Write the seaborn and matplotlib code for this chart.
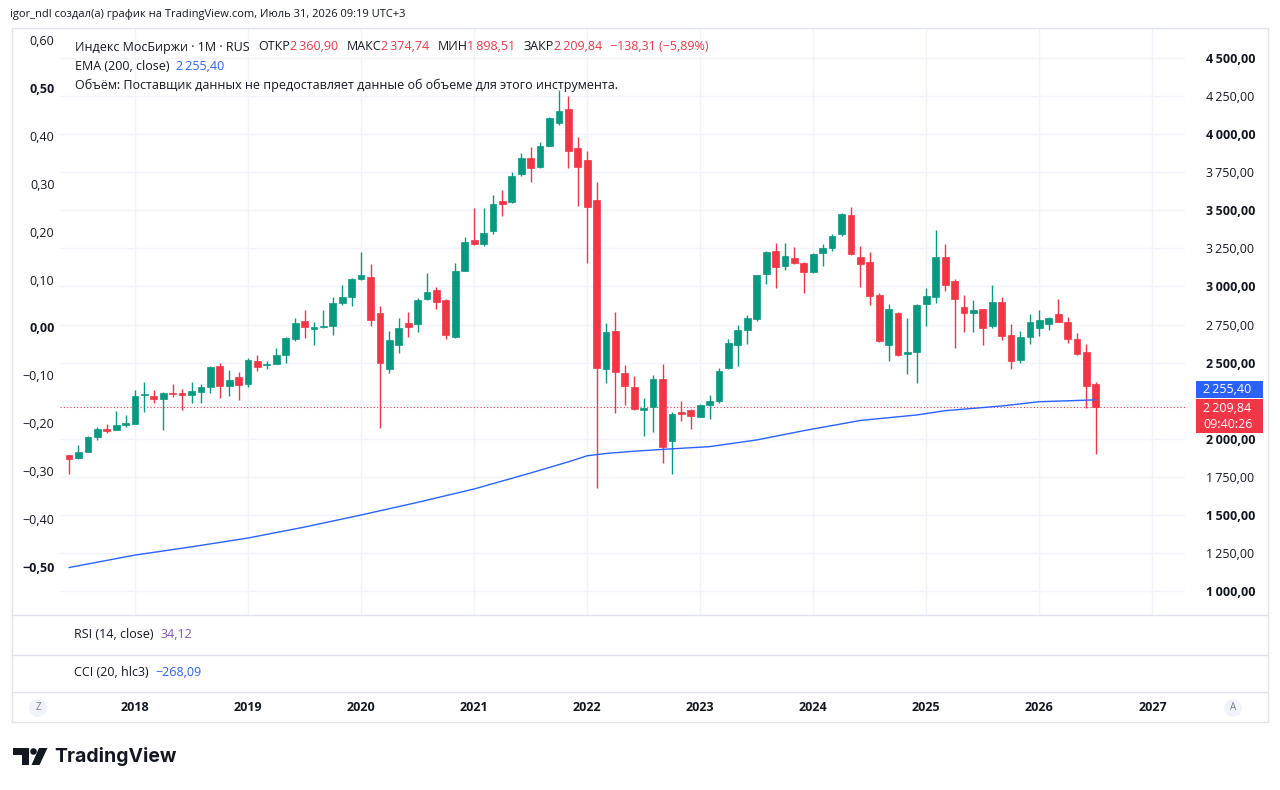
import numpy as np
import pandas as pd
import seaborn as sns
import matplotlib
matplotlib.use("Agg")
from matplotlib import pyplot as plt
from matplotlib.patches import Rectangle, Polygon, Ellipse
from matplotlib.lines import Line2D

# monthly candles, Jun 2017 .. Jul 2026
months = pd.date_range("2017-06-01", "2026-07-01", freq="MS")
opens = [1893, 1875, 1913, 2013, 2066, 2057, 2092, 2099, 2285, 2280,
         2263, 2300, 2295, 2287, 2309, 2338, 2478, 2346, 2403, 2359,
         2512, 2485, 2491, 2550, 2657, 2775, 2721, 2735, 2740, 2889,
         2933, 3051, 3062, 2827, 2456, 2615, 2758, 2753, 2916, 2975,
         2911, 2670, 3104, 3305, 3279, 3366, 3561, 3557, 3736, 3845,
         3786, 3924, 4075, 4163, 3907, 3830, 3568, 2458, 2710, 2434,
         2342, 2189, 2206, 2394, 1985, 2178, 2189, 2145, 2224, 2250,
         2466, 2613, 2714, 2786, 3082, 3233, 3135, 3189, 3156, 3093,
         3218, 3250, 3343, 3469, 3191, 3159, 2944, 2615, 2827, 2554,
         2571, 2885, 2933, 3191, 3034, 2867, 2828, 2852, 2740, 2898,
         2681, 2517, 2668, 2729, 2751, 2819, 2769, 2653, 2570, 2360.90]
highs = [1895, 1959, 2015, 2079, 2095, 2184, 2154, 2320, 2373, 2320,
         2305, 2357, 2325, 2375, 2357, 2478, 2496, 2451, 2440, 2532,
         2548, 2512, 2596, 2666, 2791, 2845, 2767, 2845, 2933, 3010,
         3055, 3228, 3147, 2871, 2709, 2795, 2830, 2925, 3086, 2999,
         2915, 3152, 3323, 3517, 3517, 3600, 3633, 3754, 3874, 3918,
         3951, 4110, 4290, 4251, 3979, 3891, 3688, 2758, 2834, 2484,
         2412, 2265, 2416, 2491, 2178, 2250, 2195, 2225, 2287, 2466,
         2653, 2747, 2812, 3075, 3235, 3283, 3283, 3257, 3160, 3220,
         3279, 3344, 3484, 3524, 3266, 3224, 2959, 2883, 2835, 2793,
         2885, 2988, 3371, 3279, 3049, 2944, 2911, 2855, 3009, 2933,
         2751, 2709, 2817, 2845, 2800, 2916, 2801, 2692, 2622, 2374.74]
lows = [1766, 1870, 1910, 1992, 2036, 2057, 2079, 2099, 2178, 2233,
        2057, 2276, 2189, 2237, 2237, 2302, 2270, 2280, 2254, 2342,
        2445, 2456, 2488, 2499, 2640, 2660, 2615, 2725, 2681, 2880,
        2874, 3040, 2740, 2073, 2430, 2561, 2670, 2703, 2910, 2850,
        2653, 2659, 3100, 3270, 3265, 3345, 3463, 3545, 3725, 3688,
        3780, 3920, 4060, 3776, 3528, 3156, 1674, 2364, 2167, 2221,
        2189, 2018, 2046, 1839, 1766, 2116, 2064, 2140, 2129, 2233,
        2460, 2478, 2622, 2770, 3016, 2988, 3108, 3150, 2955, 3085,
        3134, 3235, 3330, 3205, 2994, 2876, 2635, 2508, 2545, 2423,
        2368, 2742, 2889, 2972, 2598, 2699, 2703, 2615, 2725, 2648,
        2456, 2495, 2622, 2675, 2714, 2765, 2627, 2550, 2200, 1898.51]
closes = [1865, 1911, 2013, 2066, 2049, 2090, 2105, 2283, 2290, 2263,
          2302, 2295, 2290, 2313, 2340, 2471, 2346, 2384, 2353, 2517,
          2473, 2489, 2550, 2659, 2762, 2732, 2732, 2740, 2893, 2933,
          3047, 3075, 2780, 2495, 2648, 2729, 2736, 2911, 2964, 2900,
          2681, 3104, 3290, 3277, 3349, 3541, 3539, 3725, 3845, 3776,
          3922, 4108, 4154, 3890, 3782, 3524, 2462, 2699, 2441, 2348,
          2193, 2204, 2394, 1948, 2160, 2165, 2149, 2219, 2250, 2443,
          2629, 2712, 2791, 3073, 3226, 3128, 3200, 3156, 3093, 3215,
          3252, 3333, 3476, 3211, 3147, 2937, 2642, 2850, 2550, 2570,
          2880, 2939, 3195, 3007, 2916, 2824, 2843, 2727, 2898, 2677,
          2512, 2670, 2765, 2780, 2795, 2769, 2653, 2556, 2348, 2209.84]

# EMA(200, close) at some months (index into months)
ema_idx = [0, 7, 13, 19, 25, 31, 37, 43, 49, 53, 55, 57, 60, 63, 68,
           73, 78, 84, 90, 93, 99, 103, 109]
ema_val = [1154, 1236, 1290, 1348, 1420, 1499, 1582, 1670, 1775, 1848,
           1888, 1903, 1918, 1930, 1948, 1992, 2053, 2120, 2156, 2184,
           2215, 2243, 2255.40]

years = list(range(2018, 2028))
price_ticks = list(range(1000, 4501, 250))
left_ticks = [0.6, 0.5, 0.4, 0.3, 0.2, 0.1, 0.0, -0.1, -0.2, -0.3, -0.4, -0.5]

UP = "#089981"
DOWN = "#F23645"
TXT = "#131722"
GRID = "#f0f3fa"
BORDER = "#e0e3eb"
BLUE = "#2962FF"

sns.set_theme(style="white")
plt.rcParams["font.family"] = ["Open Sans", "DejaVu Sans"]

W, H = 1280, 790
fig = plt.figure(figsize=(12.8, 7.9), dpi=100)
fig.patch.set_facecolor("white")


def fx(x):
    return x / W


def fy(y):
    return 1 - y / H


# month index <-> pixel: Jan 2018 (index 7) at x=135, 9.42 px per month
def idx_at(px):
    return 7 + (px - 135) / 9.42


# price <-> pixel: 1000 at y=591, 250 pts per 38.07 px
def price_at(py):
    return 1000 + (591 - py) * 250 / 38.07


ax = fig.add_axes([fx(60), fy(615), fx(1185) - fx(60), fy(28) - fy(615)])
ax.set_xlim(idx_at(60), idx_at(1185))
ax.set_ylim(price_at(615), price_at(28))
for s in ax.spines.values():
    s.set_visible(False)
ax.set_facecolor("white")

# grid
for p in price_ticks:
    ax.axhline(p, color=GRID, lw=1, zorder=0)
for k, yr in enumerate(years):
    ax.axvline(7 + 12 * k, color=GRID, lw=1, zorder=0)

df = pd.DataFrame({"month": months, "open": opens, "high": highs,
                   "low": lows, "close": closes})
df["i"] = np.arange(len(df))
df["up"] = df["close"] >= df["open"]
df["col"] = np.where(df["up"], UP, DOWN)
df["bot"] = df[["open", "close"]].min(axis=1)
df["h"] = (df["close"] - df["open"]).abs().clip(lower=7)

ax.vlines(df["i"], df["low"], df["high"], colors=df["col"], lw=1, zorder=2)
ax.bar(df["i"], df["h"], bottom=df["bot"], width=0.72, color=df["col"],
       edgecolor=df["col"], linewidth=0.5, zorder=3)

ema = pd.DataFrame({"i": ema_idx, "ema": ema_val})
sns.lineplot(data=ema, x="i", y="ema", ax=ax, color=BLUE, lw=1, zorder=4)
ax.axhline(closes[-1], color=DOWN, ls=(0, (1, 2)), lw=0.8, zorder=1)
ax.set_xlabel("")
ax.set_ylabel("")
ax.set_xticks([])


def fmt_price(v):
    s = f"{v:,.2f}"
    return s.replace(",", "\u2009").replace(".", ",")


def fmt_left(v):
    s = f"{abs(v):.2f}".replace(".", ",")
    return ("\u2212" + s) if v < 0 else s


# left scale (twin), then put the price scale back on the right
ax2 = ax.twinx()
ax2.set_ylim(0.6 - (615 - 40) / 479.1, 0.6 - (28 - 40) / 479.1)
ax2.yaxis.tick_left()
ax2.set_yticks(left_ticks)
ax2.set_yticklabels([fmt_left(v) for v in left_ticks])
ax2.tick_params(axis="y", length=0, pad=4, labelsize=9, labelcolor=TXT)
for s in ax2.spines.values():
    s.set_visible(False)
ax2.grid(False)

ax.yaxis.tick_right()
ax.set_yticks(price_ticks)
# the 2 250 label sits under the EMA marker box, as in the original
ax.set_yticklabels(["" if p == 2250 else fmt_price(p) for p in price_ticks])
ax.tick_params(axis="y", which="both", left=False, labelleft=False,
               right=True, labelright=True, length=0, pad=15,
               labelsize=9, labelcolor=TXT)

fig.canvas.draw()
for t in ax.yaxis.get_ticklabels(which="major"):
    pass
for tick, p in zip(ax.yaxis.get_major_ticks(), price_ticks):
    w = "bold" if p % 500 == 0 else "normal"
    tick.label1.set_fontweight(w)
    tick.label2.set_fontweight(w)
for tick, v in zip(ax2.yaxis.get_major_ticks(), left_ticks):
    w = "bold" if round(v, 2) in (0.5, 0.0, -0.5) else "normal"
    tick.label1.set_fontweight(w)
    tick.label2.set_fontweight(w)

# time axis strip
axx = fig.add_axes([fx(60), fy(720), fx(1185) - fx(60), fy(692) - fy(720)])
axx.set_xlim(idx_at(60), idx_at(1185))
axx.set_ylim(0, 1)
axx.axis("off")
for k, yr in enumerate(years):
    axx.text(7 + 12 * k, 0.45, str(yr), ha="center", va="center",
             fontsize=9, fontweight="bold", color=TXT)


# frame and pane separators
def hline(x0, x1, y, c=BORDER):
    fig.add_artist(Line2D([fx(x0), fx(x1)], [fy(y), fy(y)], color=c, lw=1))


def vline(x, y0, y1, c=BORDER):
    fig.add_artist(Line2D([fx(x), fx(x)], [fy(y0), fy(y1)], color=c, lw=1))


hline(12, 1268, 28)
hline(12, 1268, 615)
hline(12, 1268, 655)
hline(12, 1268, 692)
hline(12, 1268, 722)
vline(12, 28, 722)
vline(1268, 28, 722)

# text helpers
renderer = fig.canvas.get_renderer()


def chain(x, y, parts, size=9, weight="normal"):
    for s, c, gap in parts:
        t = fig.text(fx(x), fy(y), s, color=c, fontsize=size,
                     fontweight=weight, ha="left", va="center")
        x += t.get_window_extent(renderer=renderer).width + gap


fig.text(fx(10), fy(15), "igor_ndl создал(а) график на TradingView.com, "
         "Июль 31, 2026 09:19 UTC+3", fontsize=8, color=TXT, va="center")

chain(75, 47, [("Индекс МосБиржи · 1M · RUS", TXT, 9),
               ("ОТКР", TXT, 0), ("2\u2009360,90", DOWN, 8),
               ("МАКС", TXT, 0), ("2\u2009374,74", DOWN, 8),
               ("МИН", TXT, 0), ("1\u2009898,51", DOWN, 8),
               ("ЗАКР", TXT, 0), ("2\u2009209,84", DOWN, 8),
               ("\u2212138,31 (\u22125,89%)", DOWN, 0)])
chain(75, 66, [("EMA (200, close)", TXT, 7), ("2\u2009255,40", BLUE, 0)])
chain(75, 85, [("Объём: Поставщик данных не предоставляет данные об объеме "
                "для этого инструмента.", TXT, 0)])
chain(74, 634, [("RSI (14, close)", TXT, 7), ("34,12", "#7E57C2", 0)])
chain(74, 673, [("CCI (20, hlc3)", TXT, 7), ("\u2212268,09", BLUE, 0)])


# last price / EMA labels on the price scale
def box(x0, y0, x1, y1, color):
    fig.add_artist(Rectangle((fx(x0), fy(y1)), fx(x1) - fx(x0), fy(y0) - fy(y1),
                             transform=fig.transFigure, facecolor=color,
                             edgecolor="none", zorder=5))


box(1196, 381, 1263, 398, BLUE)
box(1196, 399, 1263, 433, DOWN)
fig.text(fx(1203), fy(389.5), fmt_price(ema_val[-1]), color="white",
         fontsize=9, va="center", zorder=6)
fig.text(fx(1203), fy(408), fmt_price(closes[-1]), color="white",
         fontsize=9, va="center", zorder=6)
fig.text(fx(1203), fy(424), "09:40:26", color="white", fontsize=9,
         va="center", zorder=6)

# Z / A buttons
for x, s in [(38, "Z"), (1233, "A")]:
    fig.text(fx(x), fy(708), s, ha="center", va="center", fontsize=7,
             color="#787b86",
             bbox=dict(boxstyle="circle,pad=0.35", fc="#f0f3fa", ec="none"))


# TradingView logo
def poly(pts):
    fig.add_artist(Polygon([(fx(a), fy(b)) for a, b in pts], closed=True,
                           transform=fig.transFigure, facecolor=TXT,
                           edgecolor="none"))


poly([(13, 748), (29, 748), (29, 765), (21.5, 765), (21.5, 755), (13, 755)])
fig.add_artist(Ellipse((fx(33.5), fy(751.5)), 6.6 / W, 6.6 / H,
                       transform=fig.transFigure, facecolor=TXT,
                       edgecolor="none"))
poly([(39, 748), (47.5, 748), (39.5, 765), (31.5, 765)])
fig.text(fx(54), fy(756), "TradingView", fontsize=14, fontweight="bold",
         color=TXT, va="center", family=["Inter", "DejaVu Sans"])

fig.savefig("out.png", dpi=100, facecolor="white")
